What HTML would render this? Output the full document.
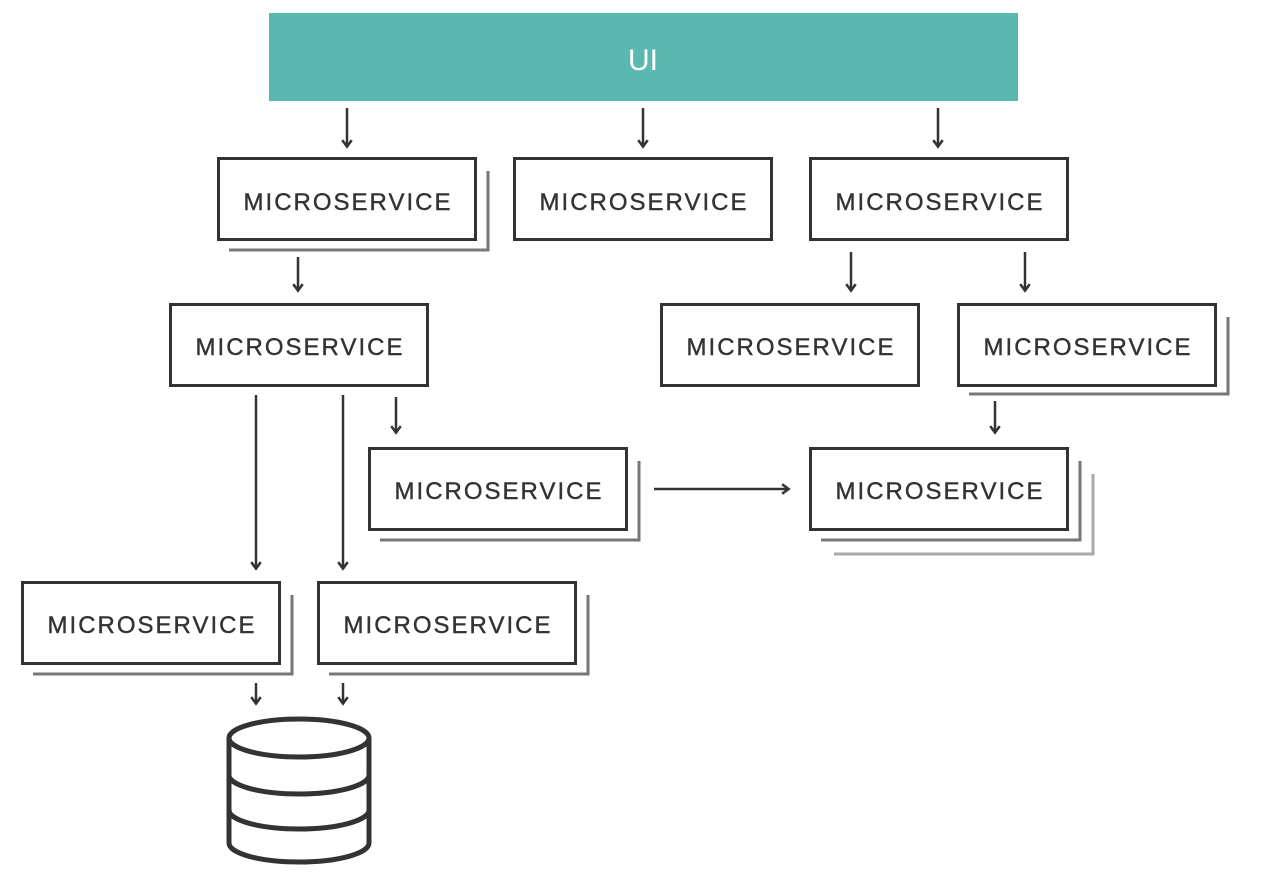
<!DOCTYPE html>
<html><head><meta charset="utf-8"><style>
body{margin:0;background:#fff;}
svg{display:block}
text{font-family:"Liberation Sans",sans-serif;}
</style></head><body>
<svg width="1274" height="882" viewBox="0 0 1274 882" xmlns="http://www.w3.org/2000/svg">
<defs>
<marker id="ah" viewBox="0 0 10 10" refX="8.5" refY="5" markerWidth="5" markerHeight="5" orient="auto" markerUnits="strokeWidth">
<path d="M3,1.2 L8.2,5 L3,8.8" fill="none" stroke="#333" stroke-width="2"/>
</marker>
</defs>
<rect x="269" y="13" width="749" height="88" fill="#5bb8b0"/>
<text x="643" y="70" font-size="30" fill="#fff" text-anchor="middle">UI</text>
<g fill="none" stroke-width="3">
<g stroke="#777">
<path d="M488,171 V250 H229"/>
<path d="M1228,317 V394 H969"/>
<path d="M639,461 V540 H380"/>
<path d="M1080,461 V540 H821"/>
<path d="M292,595 V674 H33"/>
<path d="M588,595 V674 H329"/>
</g>
<path stroke="#aaa" d="M1093,474 V554 H834"/>
<g stroke="#333">
<rect x="218.5" y="158.5" width="257" height="81"/>
<rect x="514.5" y="158.5" width="257" height="81"/>
<rect x="810.5" y="158.5" width="257" height="81"/>
<rect x="170.5" y="304.5" width="257" height="81"/>
<rect x="661.5" y="304.5" width="257" height="81"/>
<rect x="958.5" y="304.5" width="257" height="81"/>
<rect x="369.5" y="448.5" width="257" height="81"/>
<rect x="810.5" y="448.5" width="257" height="81"/>
<rect x="22.5" y="582.5" width="257" height="81"/>
<rect x="318.5" y="582.5" width="257" height="81"/>
</g>
<g stroke="#333" stroke-width="2.5" marker-end="url(#ah)">
<path d="M347,108 V147"/>
<path d="M643,108 V147"/>
<path d="M938,108 V147"/>
<path d="M298,257 V291"/>
<path d="M851,252 V291"/>
<path d="M1025,252 V291"/>
<path d="M256,395 V569"/>
<path d="M343,395 V569"/>
<path d="M396,397 V433"/>
<path d="M995,401 V433"/>
<path d="M654,489 H789"/>
<path d="M256,683 V704"/>
<path d="M343,683 V704"/>
</g>
<g stroke="#333" stroke-width="5">
<ellipse cx="299" cy="738" rx="70" ry="19"/>
<path d="M229,738 V843 A70,19 0 0 0 369,843 V738"/>
<path d="M229,775 A70,19 0 0 0 369,775"/>
<path d="M229,810 A70,19 0 0 0 369,810"/>
</g>
</g>
<g font-size="24" fill="#333" text-anchor="middle" letter-spacing="2" stroke="#333" stroke-width="0.4">
<text x="348" y="210">MICROSERVICE</text>
<text x="644" y="210">MICROSERVICE</text>
<text x="940" y="210">MICROSERVICE</text>
<text x="300" y="355">MICROSERVICE</text>
<text x="791" y="355">MICROSERVICE</text>
<text x="1088" y="355">MICROSERVICE</text>
<text x="499" y="499">MICROSERVICE</text>
<text x="940" y="499">MICROSERVICE</text>
<text x="152" y="633">MICROSERVICE</text>
<text x="448" y="633">MICROSERVICE</text>
</g>
</svg>
</body></html>
